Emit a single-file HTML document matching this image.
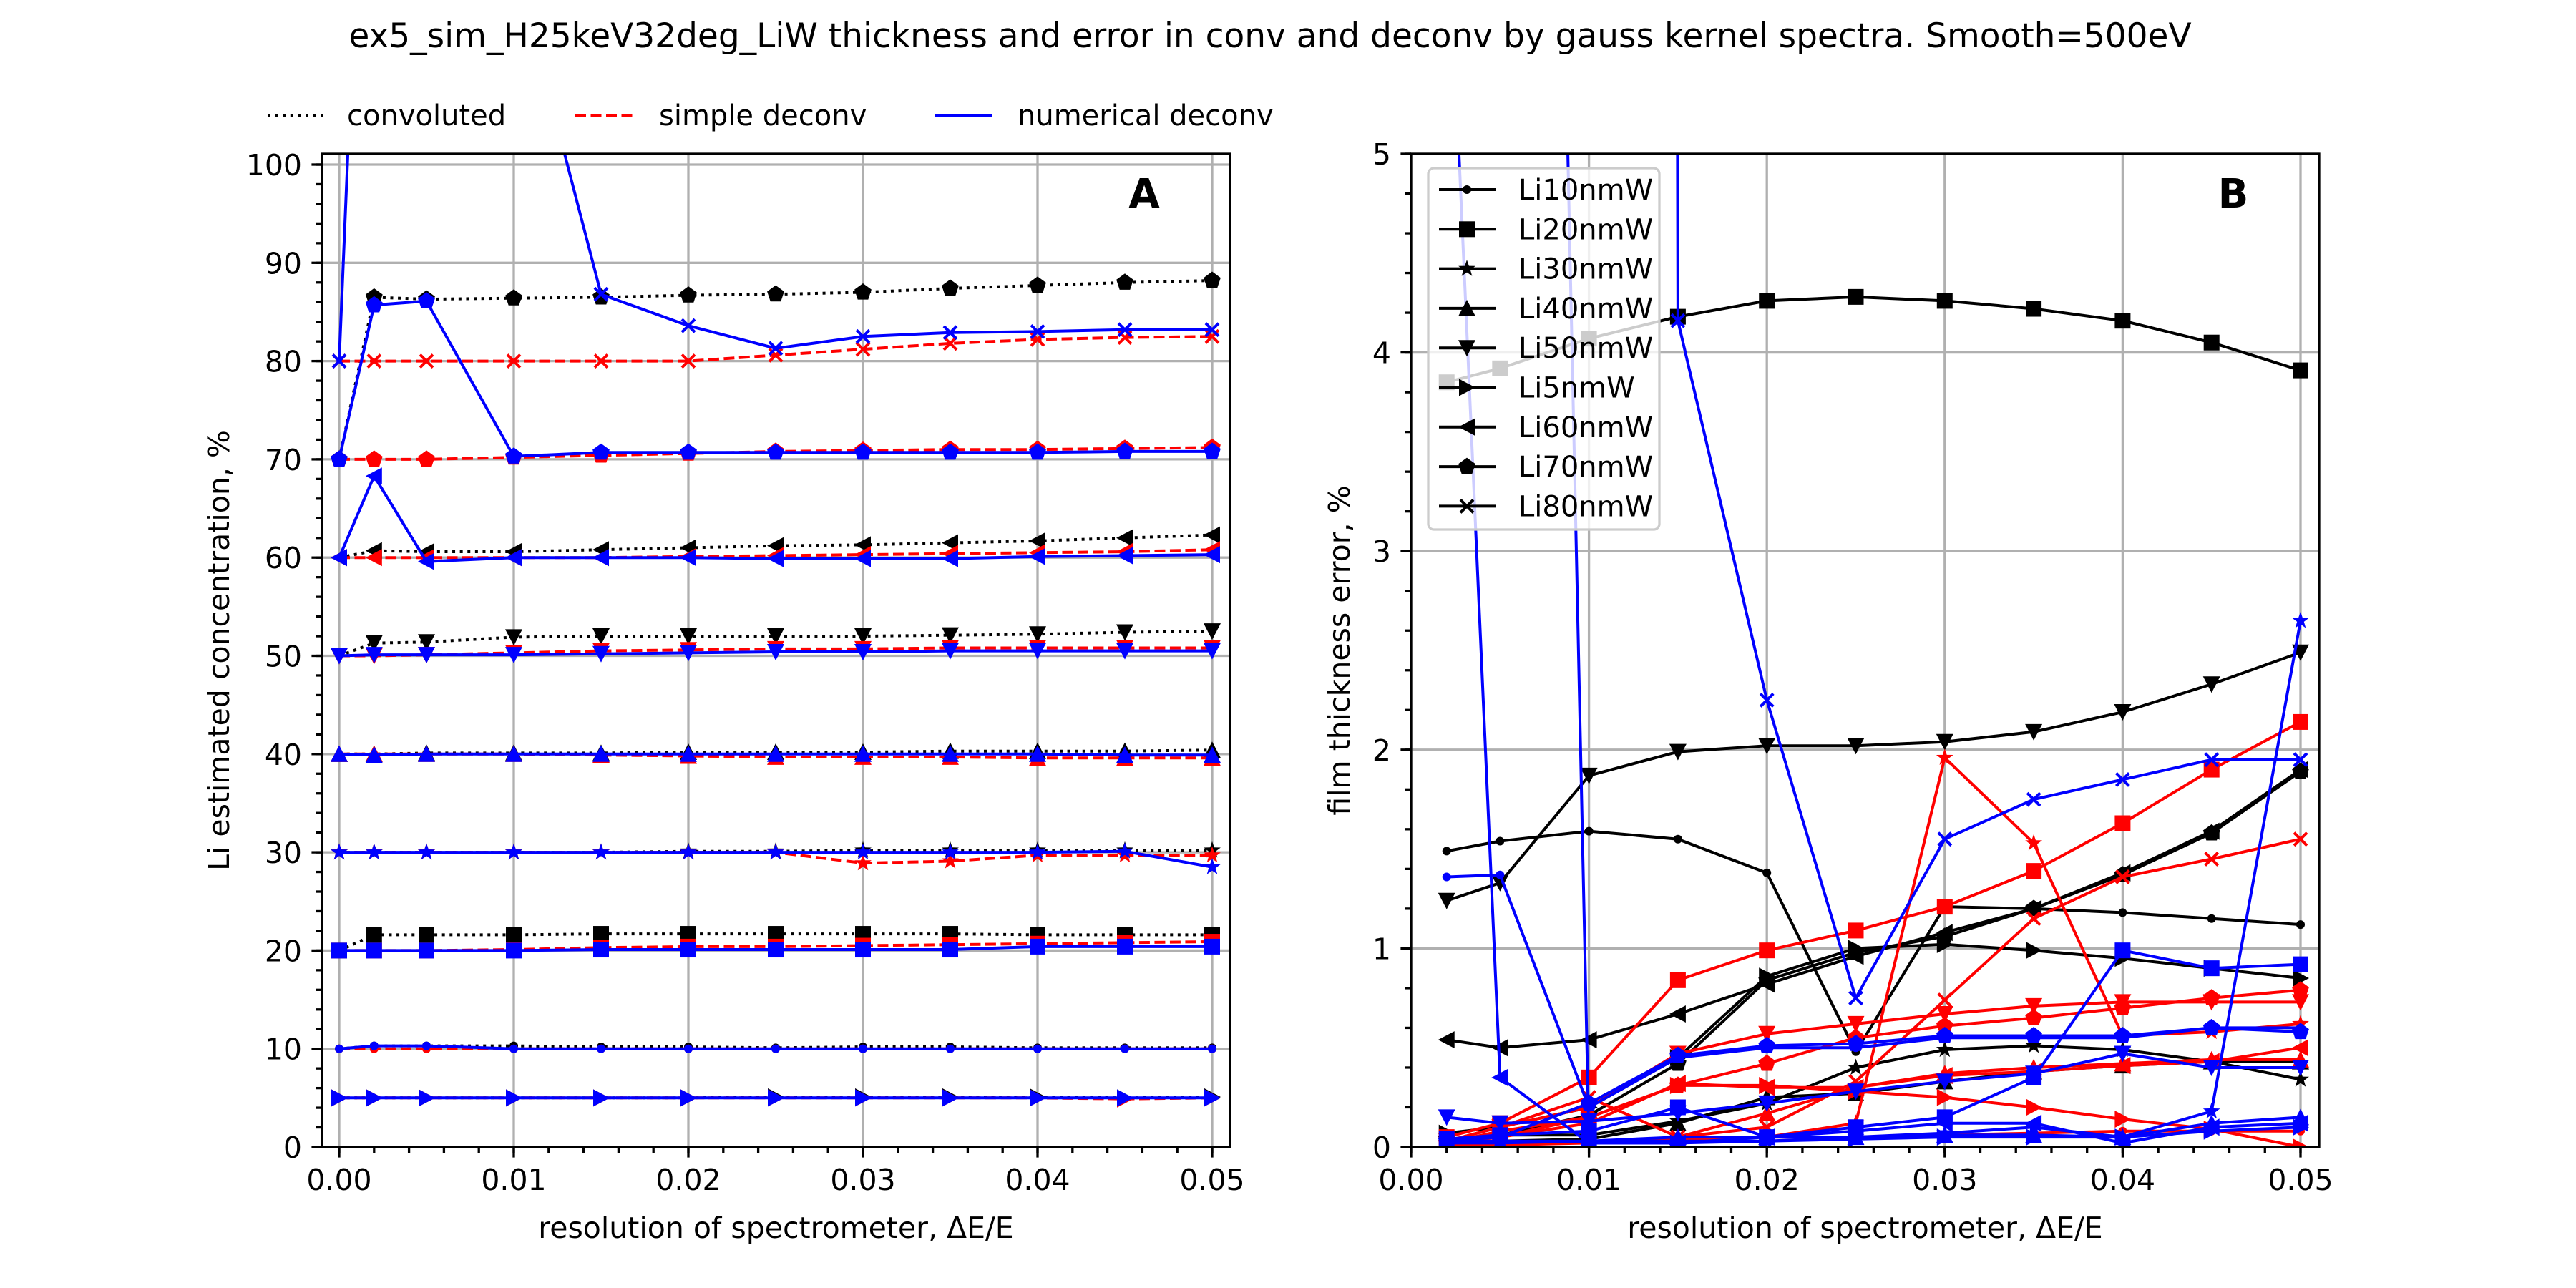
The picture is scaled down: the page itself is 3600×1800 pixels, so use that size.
<!DOCTYPE html>
<html><head><meta charset="utf-8">
<style>
html,body{margin:0;padding:0;background:#fff;}
svg{display:block;font-family:"DejaVu Sans","Liberation Sans",sans-serif;}
</style></head>
<body>
<svg id="fig" width="3600" height="1800" viewBox="0 0 3600 1800" xmlns="http://www.w3.org/2000/svg">
<rect x="0" y="0" width="3600" height="1800" fill="#fff"/>
<text x="1775" y="66" font-size="47" text-anchor="middle">ex5_sim_H25keV32deg_LiW thickness and error in conv and deconv by gauss kernel spectra. Smooth=500eV</text>
</svg>
<script>
// ---------- data ----------
const samples = ['Li10nmW','Li20nmW','Li30nmW','Li40nmW','Li50nmW','Li5nmW','Li60nmW','Li70nmW','Li80nmW'];
const markers = ['.','s','*','^','v','>','<','p','x'];
const xA = [0,0.002,0.005,0.01,0.015,0.02,0.025,0.03,0.035,0.04,0.045,0.05];
const xB = [0.002,0.005,0.01,0.015,0.02,0.025,0.03,0.035,0.04,0.045,0.05];
const xTicks = [0,0.01,0.02,0.03,0.04,0.05];
const xTickLabels = ['0.00','0.01','0.02','0.03','0.04','0.05'];
const yTicksA = [0,10,20,30,40,50,60,70,80,90,100];
const yTicksB = [0,1,2,3,4,5];

// Panel A: concentrations (%)
const convA_Li10 = [10,10.3,10.3,10.3,10.2,10.2,10.1,10.2,10.2,10.1,10.1,10.1];
const convA_Li20 = [20,21.6,21.6,21.6,21.7,21.7,21.7,21.7,21.7,21.6,21.6,21.6];
const convA_Li30 = [30,30,30,30,30,30.1,30.1,30.2,30.2,30.2,30.2,30.2];
const convA_Li40 = [40,40,40.1,40.1,40.1,40.2,40.2,40.2,40.3,40.3,40.3,40.4];
const convA_Li50 = [50,51.3,51.4,51.9,52.0,52.0,52.0,52.0,52.1,52.2,52.4,52.5];
const convA_Li5  = [5,5,5,5,5,5,5.1,5.1,5.1,5.1,5.0,5.1];
const convA_Li60 = [60,60.7,60.6,60.6,60.8,61.0,61.2,61.3,61.5,61.7,62.0,62.3];
const convA_Li70 = [70,86.5,86.3,86.4,86.5,86.7,86.8,87.0,87.4,87.7,88.0,88.2];
const convA_Li80 = [104,104,104,105,105,106,106,107,107,108,108,109];

const simpA_Li10 = [10,10,10,10,10,10,10,10,10,10,10,10];
const simpA_Li20 = [20,20,20,20.1,20.3,20.4,20.4,20.5,20.6,20.7,20.8,20.9];
const simpA_Li30 = [30,30,30,30,30,30,30,28.9,29.1,29.7,29.7,29.7];
const simpA_Li40 = [40,40,40,40,39.9,39.8,39.7,39.7,39.7,39.6,39.6,39.6];
const simpA_Li50 = [50,50,50.1,50.3,50.5,50.6,50.7,50.7,50.8,50.8,50.8,50.8];
const simpA_Li5  = [5,5,5,5,5,5,5,5,5,5,4.9,5];
const simpA_Li60 = [60,60,60,60,60,60.1,60.2,60.3,60.4,60.5,60.6,60.8];
const simpA_Li70 = [70,70,70,70.2,70.4,70.6,70.8,70.9,71,71,71.1,71.2];
const simpA_Li80 = [80,80,80,80,80,80,80.6,81.2,81.8,82.2,82.4,82.5];

const numA_Li10 = [10,10.3,10.3,10,10,10,10,10,10,10,10,10];
const numA_Li20 = [20,20,20,20,20.1,20.1,20.1,20.1,20.1,20.4,20.4,20.4];
const numA_Li30 = [30,30,30,30,30,30,30,30,30,30,30.1,28.5];
const numA_Li40 = [40,39.9,40,40,40,40,40,40,40,40,39.9,39.9];
const numA_Li50 = [50,50.1,50.1,50.1,50.2,50.3,50.4,50.4,50.5,50.5,50.5,50.5];
const numA_Li5  = [5,5,5,5,5,5,5,5,5,5,5,5];
const numA_Li60 = [60,68.3,59.6,60,60,60,59.9,59.9,59.9,60.1,60.2,60.3];
const numA_Li70 = [70,85.7,86.1,70.3,70.7,70.7,70.7,70.7,70.7,70.7,70.8,70.8];
const numA_Li80 = [80,165,150,121,86.8,83.6,81.3,82.5,82.9,83.0,83.2,83.2];

// Panel B: film thickness error (%)
const convB_Li10 = [1.49,1.54,1.59,1.55,1.38,0.48,1.21,1.20,1.18,1.15,1.12];
const convB_Li20 = [3.85,3.92,4.07,4.18,4.26,4.28,4.26,4.22,4.16,4.05,3.91];
const convB_Li30 = [0.03,0.06,0.06,0.13,0.22,0.40,0.49,0.51,0.49,0.43,0.34];
const convB_Li40 = [0.02,0.03,0.04,0.12,0.25,0.27,0.33,0.38,0.41,0.43,0.43];
const convB_Li50 = [1.24,1.33,1.87,1.99,2.02,2.02,2.04,2.09,2.19,2.33,2.49];
const convB_Li5  = [0.07,0.10,0.20,0.45,0.86,1.00,1.02,0.99,0.95,0.90,0.85];
const convB_Li60 = [0.54,0.50,0.54,0.67,0.82,0.96,1.08,1.20,1.38,1.59,1.90];
const convB_Li70 = [0.04,0.06,0.16,0.42,0.84,0.98,1.06,1.20,1.37,1.58,1.89];
const convB_Li80 = [6,6,6,6,6,6,6,6,6,6,6];

const simpB_Li10 = [0.01,0.01,0.02,0.04,0.05,0.05,0.06,0.07,0.08,0.08,0.08];
const simpB_Li20 = [0.05,0.12,0.35,0.84,0.99,1.09,1.21,1.39,1.63,1.90,2.14];
const simpB_Li30 = [0.02,0.03,0.02,0.03,0.05,0.12,1.96,1.53,0.56,0.58,0.62];
const simpB_Li40 = [0.01,0.02,0.02,0.05,0.17,0.30,0.37,0.40,0.42,0.44,0.44];
const simpB_Li50 = [0.03,0.10,0.20,0.47,0.57,0.62,0.67,0.71,0.73,0.73,0.73];
const simpB_Li5  = [0.02,0.05,0.15,0.31,0.31,0.28,0.25,0.20,0.14,0.09,0.00];
const simpB_Li60 = [0.02,0.05,0.12,0.32,0.30,0.30,0.36,0.38,0.41,0.43,0.50];
const simpB_Li70 = [0.02,0.08,0.15,0.31,0.42,0.55,0.61,0.65,0.70,0.75,0.79];
const simpB_Li80 = [0.03,0.10,0.25,0.05,0.10,0.33,0.74,1.15,1.36,1.45,1.55];

const numB_Li10 = [1.36,1.37,0.20,0.45,0.50,0.50,0.55,0.55,0.55,0.60,0.60];
const numB_Li20 = [0.04,0.06,0.08,0.20,0.05,0.10,0.15,0.35,0.99,0.90,0.92];
const numB_Li30 = [0.03,0.03,0.03,0.03,0.03,0.05,0.07,0.10,0.05,0.18,2.65];
const numB_Li40 = [0.02,0.02,0.03,0.05,0.05,0.05,0.06,0.06,0.05,0.12,0.15];
const numB_Li50 = [0.15,0.12,0.13,0.17,0.22,0.28,0.33,0.37,0.47,0.40,0.40];
const numB_Li5  = [40,21,0.02,0.02,0.03,0.04,0.05,0.05,0.05,0.08,0.10];
const numB_Li60 = [6.4,0.35,0.02,0.02,0.05,0.08,0.12,0.12,0.02,0.10,0.12];
const numB_Li70 = [0.03,0.05,0.22,0.46,0.51,0.52,0.56,0.56,0.56,0.60,0.58];
const numB_Li80 = [150,180,200,4.16,2.25,0.75,1.55,1.75,1.85,1.95,1.95];

const convA = [convA_Li10,convA_Li20,convA_Li30,convA_Li40,convA_Li50,convA_Li5,convA_Li60,convA_Li70,convA_Li80];
const simpA = [simpA_Li10,simpA_Li20,simpA_Li30,simpA_Li40,simpA_Li50,simpA_Li5,simpA_Li60,simpA_Li70,simpA_Li80];
const numA  = [numA_Li10,numA_Li20,numA_Li30,numA_Li40,numA_Li50,numA_Li5,numA_Li60,numA_Li70,numA_Li80];
const convB = [convB_Li10,convB_Li20,convB_Li30,convB_Li40,convB_Li50,convB_Li5,convB_Li60,convB_Li70,convB_Li80];
const simpB = [simpB_Li10,simpB_Li20,simpB_Li30,simpB_Li40,simpB_Li50,simpB_Li5,simpB_Li60,simpB_Li70,simpB_Li80];
const numB  = [numB_Li10,numB_Li20,numB_Li30,numB_Li40,numB_Li50,numB_Li5,numB_Li60,numB_Li70,numB_Li80];

// ---------- drawing ----------
const NS = 'http://www.w3.org/2000/svg';
const svg = document.getElementById('fig');
function mk(tag, attrs, parent){
  const e = document.createElementNS(NS, tag);
  for (const k in attrs) e.setAttribute(k, attrs[k]);
  (parent||svg).appendChild(e);
  return e;
}
const axA = {L:450,R:1719,T:215,B:1603, x0:474, x1:1694, xv0:0, xv1:0.05, yv0:0, yv1:100, yp0:1603, yp1:230};
const axB = {L:1972,R:3241,T:215,B:1603, x0:1972, x1:3215, xv0:0, xv1:0.05, yv0:0, yv1:5, yp0:1603, yp1:215};
function sx(ax,v){ return ax.x0 + (v-ax.xv0)/(ax.xv1-ax.xv0)*(ax.x1-ax.x0); }
function sy(ax,v){ return ax.yp0 + (v-ax.yv0)/(ax.yv1-ax.yv0)*(ax.yp1-ax.yp0); }

function drawMarker(g, type, cx, cy, color){
  let e;
  if (type==='.') e = mk('circle',{cx:cx,cy:cy,r:6,fill:color},g);
  else if (type==='s') e = mk('rect',{x:cx-11,y:cy-11,width:22,height:22,fill:color},g);
  else if (type==='^') e = mk('polygon',{points:`${cx},${cy-12} ${cx-12},${cy+11} ${cx+12},${cy+11}`,fill:color},g);
  else if (type==='v') e = mk('polygon',{points:`${cx},${cy+12} ${cx-12},${cy-11} ${cx+12},${cy-11}`,fill:color},g);
  else if (type==='>') e = mk('polygon',{points:`${cx+12},${cy} ${cx-11},${cy-12} ${cx-11},${cy+12}`,fill:color},g);
  else if (type==='<') e = mk('polygon',{points:`${cx-12},${cy} ${cx+11},${cy-12} ${cx+11},${cy+12}`,fill:color},g);
  else if (type==='p'){
    let pts=[]; for(let i=0;i<5;i++){const a=-Math.PI/2+i*2*Math.PI/5; pts.push((cx+12.5*Math.cos(a)).toFixed(1)+','+(cy+12.5*Math.sin(a)).toFixed(1));}
    e = mk('polygon',{points:pts.join(' '),fill:color},g);
  } else if (type==='*'){
    let pts=[]; for(let i=0;i<10;i++){const a=-Math.PI/2+i*Math.PI/5; const r=i%2?5:12.5; pts.push((cx+r*Math.cos(a)).toFixed(1)+','+(cy+r*Math.sin(a)).toFixed(1));}
    e = mk('polygon',{points:pts.join(' '),fill:color},g);
  } else if (type==='x'){
    e = mk('path',{d:`M${cx-9},${cy-9}L${cx+9},${cy+9}M${cx-9},${cy+9}L${cx+9},${cy-9}`,stroke:color,'stroke-width':4,fill:'none'},g);
  }
  return e;
}

function drawAxes(ax, name, yTicks, yMinorStep, yLabel, letter){
  const g = mk('g',{});
  
  
  const clip = mk('clipPath',{id:'clip-'+name},g);
  mk('rect',{x:ax.L,y:ax.T,width:ax.R-ax.L,height:ax.B-ax.T},clip);
  const grid = mk('g',{stroke:'#b0b0b0','stroke-width':3.3},g);
  
  
  xTicks.forEach(v=>{ const x=sx(ax,v); mk('line',{x1:x,x2:x,y1:ax.T,y2:ax.B},grid); });
  yTicks.forEach(v=>{ const y=sy(ax,v); mk('line',{x1:ax.L,x2:ax.R,y1:y,y2:y},grid); });
  const tg = mk('g',{stroke:'#000','stroke-width':3.3},g);
  
  
  const tl = mk('g',{'font-size':41,fill:'#000'},g);
  xTicks.forEach((v,i)=>{
    const x=sx(ax,v); mk('line',{x1:x,x2:x,y1:ax.B,y2:ax.B+14.6},tg);
    const t = mk('text',{x:x,y:1663,'text-anchor':'middle'},tl); t.textContent = xTickLabels[i];
    
    
  });
  for (let v=-0.002; v<=0.0512; v+=0.002){
    const x=sx(ax,v); if (x<ax.L-0.5||x>ax.R+0.5) continue;
    mk('line',{x1:x,x2:x,y1:ax.B,y2:ax.B+8.3},tg);
  }
  yTicks.forEach(v=>{
    const y=sy(ax,v); mk('line',{x1:ax.L-14.6,x2:ax.L,y1:y,y2:y},tg);
    const t = mk('text',{x:ax.L-28,y:y+15,'text-anchor':'end'},tl); t.textContent = String(v);
    
    
  });
  for (let v=ax.yv0; v<=ax.yv1+1e-9; v+=yMinorStep){
    const y=sy(ax,v); if (y<ax.T-0.5) continue;
    mk('line',{x1:ax.L-8.3,x2:ax.L,y1:y,y2:y},tg);
  }
  const xl = mk('text',{x:(ax.L+ax.R)/2,y:1730,'font-size':41,'text-anchor':'middle'},g);
  xl.textContent = 'resolution of spectrometer, ΔE/E';
  
  
  const yx = ax.L - (name==='panel-a'?130:86);
  const yl = mk('text',{x:yx,y:(ax.T+ax.B)/2,'font-size':41,'text-anchor':'middle',transform:`rotate(-90 ${yx} ${(ax.T+ax.B)/2})`},g);
  yl.textContent = yLabel;
  
  
  const lt = mk('text',{x:ax.R-120,y:290,'font-size':56,'font-weight':'bold','text-anchor':'middle'},g);
  lt.textContent = letter;
  
  
  return g;
}

function drawSeries(ax, name, xs, ys, color, dash, mtype, sname){
  const g = mk('g',{'clip-path':`url(#clip-${name})`});
  
  
  const d = xs.map((x,i)=>(i?'L':'M')+sx(ax,x).toFixed(1)+','+sy(ax,ys[i]).toFixed(1)).join('');
  const p = mk('path',{d:d,fill:'none',stroke:color,'stroke-width':4,'stroke-linejoin':'round'},g);
  if (dash) p.setAttribute('stroke-dasharray', dash);
  xs.forEach((x,i)=>{
    const m = drawMarker(g, mtype, sx(ax,x), sy(ax,ys[i]), color);
    
    
  });
}

const gA = drawAxes(axA, 'panel-a', yTicksA, 2, 'Li estimated concentration, %', 'A');
const gB = drawAxes(axB, 'panel-b', yTicksB, 0.2, 'film thickness error, %', 'B');

[['#000','4,6.6',convA,'conv'],['#ff0000','15,6.5',simpA,'simple'],['#0000ff',null,numA,'numerical']].forEach(([c,dash,arr,lab])=>{
  samples.forEach((s,i)=> drawSeries(axA,'panel-a',xA,arr[i],c,dash,markers[i],'a-'+lab+'-'+s));
});
[['#000',null,convB,'conv'],['#ff0000',null,simpB,'simple'],['#0000ff',null,numB,'numerical']].forEach(([c,dash,arr,lab])=>{
  samples.forEach((s,i)=> drawSeries(axB,'panel-b',xB,arr[i],c,dash,markers[i],'b-'+lab+'-'+s));
});

[axA,axB].forEach((ax,k)=>{
  const r = mk('rect',{x:ax.L,y:ax.T,width:ax.R-ax.L,height:ax.B-ax.T,fill:'none',stroke:'#000','stroke-width':3.3});
  
  
});

const legA = mk('g',{'font-size':40});


[['convoluted','#000','4,6.6',374,452,485],['simple deconv','#ff0000','15,6.5',804,884,921],['numerical deconv','#0000ff',null,1307,1387,1422]].forEach(([t,c,d,x1,x2,tx])=>{
  const ent = mk('g',{},legA);
  
  
  const l = mk('line',{x1:x1,x2:x2,y1:161,y2:161,stroke:c,'stroke-width':4},ent);
  if (d) l.setAttribute('stroke-dasharray', d);
  const tt = mk('text',{x:tx,y:175},ent); tt.textContent = t;
});

const legB = mk('g',{'font-size':40});


mk('rect',{x:1996,y:235,width:323,height:505,rx:8,fill:'#fff','fill-opacity':0.8,stroke:'#cccccc','stroke-width':3.3},legB);
samples.forEach((s,i)=>{
  const y = 265 + i*55.3;
  const ent = mk('g',{},legB);
  
  
  mk('line',{x1:2011,x2:2090,y1:y,y2:y,stroke:'#000','stroke-width':4},ent);
  drawMarker(ent, markers[i], 2050, y, '#000');
  const tt = mk('text',{x:2122,y:y+14},ent); tt.textContent = s;
});
</script>
</body></html>
